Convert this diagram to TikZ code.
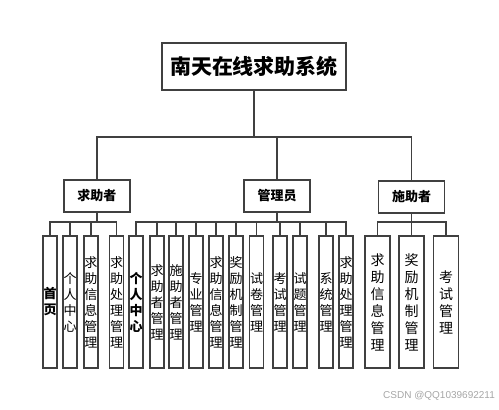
\documentclass[tikz,border=0pt]{standalone}
\usepackage{fontspec}
\newfontfamily\cjk{Noto Sans CJK SC}
\newfontfamily\wmfont{Liberation Sans}
\usetikzlibrary{positioning}
\begin{document}
\begin{tikzpicture}[x=1pt, y=-1pt,
  box/.style={rectangle, draw=black!75, line width=1.1pt, inner sep=0pt},
  topbox/.style={box, minimum width=184pt, minimum height=47pt,
                 font=\cjk\bfseries\fontsize{21}{24}\selectfont},
  role/.style={box, minimum width=66pt, minimum height=32pt,
               font=\cjk\bfseries\fontsize{13}{15}\selectfont},
  leaf/.style={box, minimum width=14pt, minimum height=132pt, align=center,
               font=\cjk\fontsize{13}{16}\selectfont},
  leafb/.style={leaf, font=\cjk\bfseries\fontsize{13}{16}\selectfont},
  wleaf/.style={leaf, minimum width=25pt, font=\cjk\fontsize{14}{17}\selectfont},
  link/.style={draw=black!75, line width=1.1pt}
]
  \useasboundingbox (0,0) rectangle (499,410);

  % Root and the three roles
  \node[topbox] (root) at (254,66.5) {南天在线求助系统};
  \node[role] (seeker) at (97,196)   {求助者};
  \node[role] (admin)  at (277,196)  {管理员};
  \node[role] (helper) at (411.5,197) {施助者};

  % Function leaves (vertical text)
  \foreach \n/\px/\s/\t in {
      s1/50/leafb/{首\\页},
      s2/70/leaf/{个\\人\\中\\心},
      s3/91/leaf/{求\\助\\信\\息\\管\\理},
      s4/116.5/leaf/{求\\助\\处\\理\\管\\理},
      a1/136/leafb/{个\\人\\中\\心},
      a2/157/leaf/{求\\助\\者\\管\\理},
      a3/176/leaf/{施\\助\\者\\管\\理},
      a4/196/leaf/{专\\业\\管\\理},
      a5/216/leaf/{求\\助\\信\\息\\管\\理},
      a6/236/leaf/{奖\\励\\机\\制\\管\\理},
      a7/256.5/leaf/{试\\卷\\管\\理},
      a8/280/leaf/{考\\试\\管\\理},
      a9/300/leaf/{试\\题\\管\\理},
      a10/326/leaf/{系\\统\\管\\理},
      a11/346/leaf/{求\\助\\处\\理\\管\\理},
      h1/377.5/wleaf/{求\\助\\信\\息\\管\\理},
      h2/411.5/wleaf/{奖\\励\\机\\制\\管\\理},
      h3/446/wleaf/{考\\试\\管\\理}} {
    \node[\s] (\n) at (\px,302) {\t};
  }

  % Root to roles
  \coordinate (topbus) at (254,137);
  \draw[link] (root.south) -- (topbus);
  \draw[link] (seeker.north) |- (topbus) -| (helper.north);
  \draw[link] (admin.north) -- (admin.north |- topbus);

  % Roles to leaves
  \coordinate (sbus) at (97,222);
  \coordinate (abus) at (277,222);
  \coordinate (hbus) at (411.5,222);
  \draw[link] (seeker.south) -- (sbus);
  \draw[link] (s1.north) |- (sbus) -| (s4.north);
  \foreach \c in {s2,s3}
    \draw[link] (\c.north) -- (\c.north |- sbus);
  \draw[link] (admin.south) -- (abus);
  \draw[link] (a1.north) |- (abus) -| (a11.north);
  \foreach \c in {a2,a3,a4,a5,a6,a7,a8,a9,a10}
    \draw[link] (\c.north) -- (\c.north |- abus);
  \draw[link] (helper.south) -- (hbus);
  \draw[link] (h1.north) |- (hbus) -| (h3.north);
  \draw[link] (h2.north) -- (h2.north |- hbus);

  % Watermark
  \node[font=\wmfont\fontsize{10}{12}\selectfont, text=black!35] (credit)
    at (439,396) {CSDN @QQ1039692211};
\end{tikzpicture}
\end{document}
